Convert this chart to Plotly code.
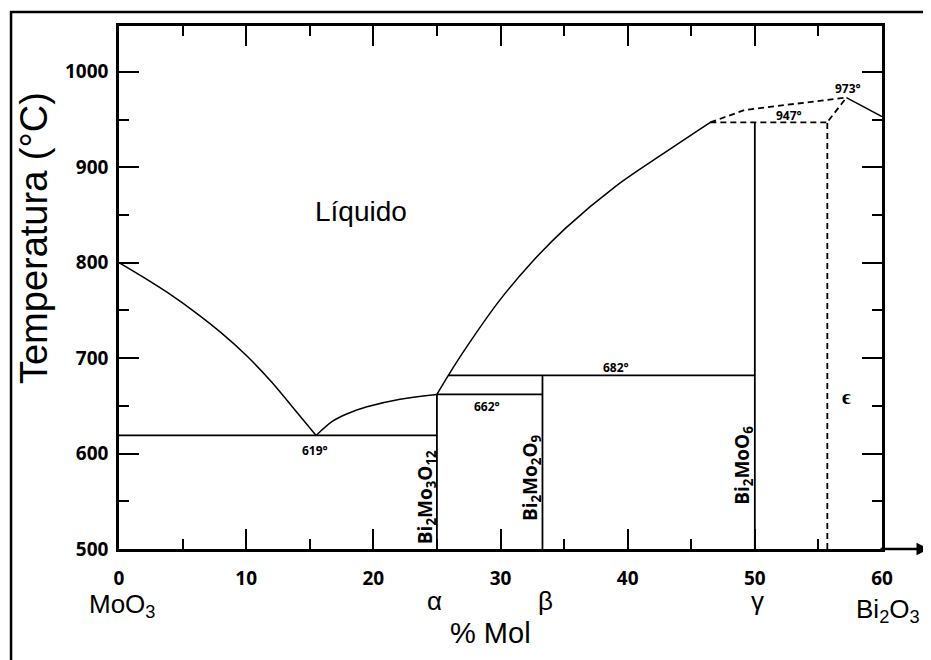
import plotly.graph_objects as go

# liquidus curves (% mol Bi2O3, temperature in °C)
left_liq_x = [0, 2, 4, 6, 8, 10, 12, 14, 15.5]
left_liq_t = [800, 784, 767, 748, 727, 703, 675, 643, 619]
mid_liq_x = [15.5, 16.8, 18.0, 19.5, 22.1, 25.0]
mid_liq_t = [619, 634, 642, 649, 657, 662]
right_liq_x = [25.0, 25.9, 27.3, 29.9, 32.5, 35.1, 39.05, 43.0, 46.5]
right_liq_t = [662, 682, 711, 760, 801, 836, 880, 916, 947]
top_dash_x = [46.5, 49.2, 57.2]
top_dash_t = [947, 960, 973]
peak_x = [57.2, 59.8, 60.0]
peak_t = [973, 954, 953]

# solid invariant lines and compound lines: (x0, t0, x1, t1)
solid_segments = [
    (0, 619, 25, 619),
    (25, 662, 33.3, 662),
    (25.9, 682, 50, 682),
    (25, 500, 25, 662),
    (33.3, 500, 33.3, 682),
    (50, 500, 50, 947),
]
dashed_segments = [
    (46.5, 947, 55.7, 947),
    (55.7, 500, 55.7, 947),
    (55.8, 949, 57.2, 973),
]

# labels
temp_labels = ["619°", "662°", "682°", "947°", "973°"]
temp_label_x = [15.4, 28.9, 39.1, 52.65, 57.35]
temp_label_t = [603.5, 649.5, 690, 954, 983]

compounds = ["Bi<sub>2</sub>Mo<sub>3</sub>O<sub>12</sub>", "Bi<sub>2</sub>Mo<sub>2</sub>O<sub>9</sub>",
             "Bi<sub>2</sub>MoO<sub>6</sub>"]
compound_x = [24.2, 32.45, 49.1]
compound_t = [554, 575, 587.6]

phases = ["α", "β", "γ"]
phase_x = [24.8, 33.5, 50.2]

fig = go.Figure()

curve = dict(color="black", width=1.5, shape="spline")
dashed = dict(color="black", width=1.8, dash="6px,4px")
fig.add_trace(go.Scatter(x=left_liq_x, y=left_liq_t, mode="lines", line=curve))
fig.add_trace(go.Scatter(x=mid_liq_x, y=mid_liq_t, mode="lines", line=curve))
fig.add_trace(go.Scatter(x=right_liq_x, y=right_liq_t, mode="lines", line=curve))
fig.add_trace(go.Scatter(x=top_dash_x, y=top_dash_t, mode="lines", line=dashed))
fig.add_trace(go.Scatter(x=peak_x, y=peak_t, mode="lines", line=dict(color="black", width=1.5)))

for x0, t0, x1, t1 in solid_segments:
    fig.add_trace(go.Scatter(x=[x0, x1], y=[t0, t1], mode="lines", line=dict(color="black", width=1.8)))
for x0, t0, x1, t1 in dashed_segments:
    fig.add_trace(go.Scatter(x=[x0, x1], y=[t0, t1], mode="lines", line=dashed))

bold = dict(family="Open Sans", color="black", size=12, weight="bold")
for txt, x, t in zip(temp_labels, temp_label_x, temp_label_t):
    fig.add_annotation(x=x, y=t, text=txt, showarrow=False, font=bold)

for txt, x, t in zip(compounds, compound_x, compound_t):
    fig.add_annotation(x=x, y=t, text=txt, showarrow=False, textangle=-90,
                       font=dict(family="Open Sans", color="black", size=19, weight="bold"))

fig.add_annotation(x=57.2, y=660, text="ϵ", showarrow=False,
                   font=dict(family="Open Sans", color="black", size=21, weight="bold"))
fig.add_annotation(x=19.05, y=853.7, text="Líquido", showarrow=False,
                   font=dict(family="Liberation Sans", color="black", size=28))

# labels under the x axis (paper coords: x = %mol / 60)
sans = dict(family="Liberation Sans", color="black", size=26)
below = dict(xref="paper", yref="paper", xanchor="center", yanchor="middle", showarrow=False)
for txt, x in zip(phases, phase_x):
    fig.add_annotation(x=x / 60, y=-0.099, text=txt, font=sans, **below)
fig.add_annotation(x=0.2 / 60, y=-0.108, text="MoO<sub>3</sub>", font=sans, **below)
fig.add_annotation(x=60.5 / 60, y=-0.117, text="Bi<sub>2</sub>O<sub>3</sub>", font=sans, **below)
fig.add_annotation(x=29.2 / 60, y=-0.16, text="% Mol",
                   font=dict(family="Liberation Sans", color="black", size=29), **below)
fig.add_annotation(xref="paper", yref="paper", x=-0.1105, y=0.594, text="Temperatura (°C)",
                   xanchor="center", yanchor="middle", showarrow=False, textangle=-90,
                   font=dict(family="Liberation Sans", color="black", size=38))

# x axis arrow past 60
fig.add_annotation(xref="paper", yref="paper", x=1.0616, y=0, ax=-50, ay=0, text="",
                   showarrow=True, arrowhead=2, arrowsize=1, arrowwidth=2.5, arrowcolor="black")

# outer frame
fig.add_shape(type="rect", xref="paper", yref="paper", x0=-0.1415, y0=-1, x1=3, y1=1.0268,
              line=dict(color="black", width=2.5))

axis_common = dict(
    showline=True, linecolor="black", linewidth=2.5, mirror="ticks",
    ticks="inside", ticklen=20, tickwidth=2, tickcolor="black",
    showgrid=False, zeroline=False,
    tickfont=dict(family="Open Sans", color="black", size=19, weight="bold"),
)
fig.update_xaxes(range=[0, 60], dtick=10, tick0=0, ticklabelstandoff=10,
                 minor=dict(ticks="inside", ticklen=10, tickwidth=2, tickcolor="black", dtick=5),
                 **axis_common)
fig.update_yaxes(range=[500, 1048], dtick=100, tick0=500, ticklabelstandoff=4,
                 minor=dict(ticks="inside", ticklen=10, tickwidth=2, tickcolor="black", dtick=50),
                 **axis_common)

# page body adds an 8px margin, so the figure is 8px smaller than the window
fig.update_layout(
    width=923, height=652,
    margin=dict(l=111, r=49, t=18, b=111),
    plot_bgcolor="white", paper_bgcolor="white",
    showlegend=False,
)

fig.write_html("out.html")
